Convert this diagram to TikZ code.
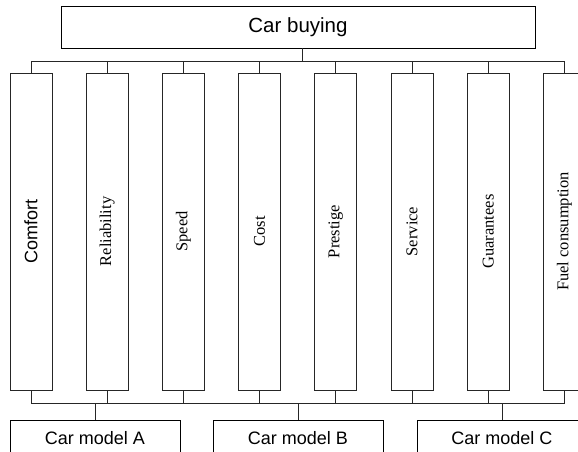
\documentclass[tikz,border=0pt]{standalone}
\usepackage{fontspec}
\setmainfont{Liberation Serif}
\newfontfamily\arialf{Liberation Sans}
\usepackage{graphicx}
\begin{document}
\begin{tikzpicture}[x=1pt,y=-1pt,
  ln/.style={draw=black!85,line width=0.9pt},
  topbox/.style={ln,draw=black,minimum width=474pt,minimum height=42pt,inner sep=0pt,font=\arialf\fontsize{20.5}{22}\selectfont},
  critbox/.style={ln,fill=white,minimum width=42pt,minimum height=317pt,inner sep=0pt,font=\fontsize{16.5}{18}\selectfont},
  modelbox/.style={ln,draw=black,fill=white,minimum width=170pt,minimum height=40pt,inner sep=0pt,font=\arialf\fontsize{18}{20}\selectfont}]
\useasboundingbox (0,0) rectangle (578,452);
\clip (0,0) rectangle (578,452);
\node[topbox] (top) at (298,27) {Car buying};
\node[critbox] (c1) at (31,231.5) {\rotatebox{90}{\arialf\fontsize{18}{20}\selectfont Comfort}};
\node[critbox] (c2) at (107.2,231.5) {\rotatebox{90}{Reliability}};
\node[critbox] (c3) at (183.4,231.5) {\rotatebox{90}{Speed}};
\node[critbox] (c4) at (259.6,231.5) {\rotatebox{90}{Cost}};
\node[critbox] (c5) at (335.8,231.5) {\rotatebox{90}{Prestige}};
\node[critbox] (c6) at (412,231.5) {\rotatebox{90}{Service}};
\node[critbox] (c7) at (488.2,231.5) {\rotatebox{90}{Guarantees}};
\node[critbox] (c8) at (564.4,231.5) {\rotatebox{90}{Fuel consumption}};
\node[modelbox] (mA) at (95,440) {\raisebox{4pt}{Car model A}};
\node[modelbox] (mB) at (298,440) {\raisebox{4pt}{Car model B}};
\node[modelbox] (mC) at (502,440) {\raisebox{4pt}{Car model C}};
% top connectors
\coordinate (busT) at (0,61);
\coordinate (busB) at (0,403);
\coordinate (topstub) at ([xshift=4pt]top.south);
\draw[ln] (topstub) -- (topstub |- busT);
\draw[ln] (c1.north) -- (c1.north |- busT) -- (c8.north |- busT) -- (c8.north);
\foreach \i in {2,...,7} { \draw[ln] (c\i.north) -- (c\i.north |- busT); }
% bottom connectors
\draw[ln] (c1.south) -- (c1.south |- busB) -- (c8.south |- busB) -- (c8.south);
\foreach \i in {2,...,7} { \draw[ln] (c\i.south) -- (c\i.south |- busB); }
\foreach \m in {mA,mB,mC} { \draw[ln] (\m.north) -- (\m.north |- busB); }
\end{tikzpicture}
\end{document}
